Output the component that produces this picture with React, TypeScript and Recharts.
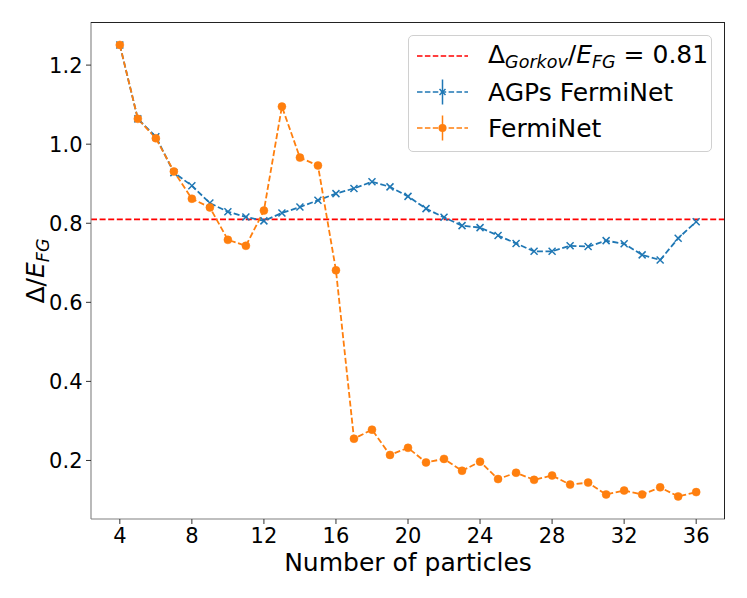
import { LineChart, Line, XAxis, YAxis, ReferenceLine } from "recharts";

const particles = [
  4, 5, 6, 7, 8, 9, 10, 11, 12, 13, 14, 15, 16, 17, 18, 19, 20, 21, 22, 23, 24,
  25, 26, 27, 28, 29, 30, 31, 32, 33, 34, 35, 36,
];

const agpsFermiNet = [
  1.251, 1.064, 1.019, 0.928, 0.895, 0.851, 0.829, 0.816, 0.806, 0.826, 0.841,
  0.858, 0.875, 0.888, 0.905, 0.892, 0.868, 0.837, 0.815, 0.794, 0.789, 0.769,
  0.749, 0.729, 0.729, 0.743, 0.741, 0.756, 0.748, 0.72, 0.707, 0.762, 0.804,
];

const fermiNet = [
  1.251, 1.064, 1.015, 0.931, 0.862, 0.84, 0.758, 0.743, 0.832, 1.095, 0.966,
  0.946, 0.681, 0.255, 0.278, 0.214, 0.232, 0.195, 0.204, 0.174, 0.197, 0.153,
  0.169, 0.151, 0.162, 0.139, 0.144, 0.114, 0.124, 0.114, 0.132, 0.109, 0.12,
];

const xTicks = [4, 8, 12, 16, 20, 24, 28, 32, 36];
const yTicks = [0.2, 0.4, 0.6, 0.8, 1.0, 1.2];
const gorkovGap = 0.81;

const BLUE = "#1f77b4";
const ORANGE = "#ff7f0e";
const RED = "#ff0000";
const FONT = "'DejaVu Sans', sans-serif";
const DASH = "6 2.6";

const data = particles.map((n, i) => ({
  n,
  agps: agpsFermiNet[i],
  fermi: fermiNet[i],
}));

const CrossDot = (props: any) => {
  const { cx, cy, index } = props;
  if (cx == null || cy == null) return null;
  const s = 3.5;
  return (
    <path
      key={`x-${index}`}
      d={`M${cx - s},${cy - s}L${cx + s},${cy + s}M${cx - s},${cy + s}L${cx + s},${cy - s}`}
      stroke={BLUE}
      strokeWidth={1.5}
      fill="none"
    />
  );
};

const Sub = ({ children }: { children: any }) => (
  <span style={{ fontSize: "0.7em", position: "relative", top: "0.3em" }}>
    {children}
  </span>
);

const Handle = ({ color, marker }: { color: string; marker?: "x" | "o" }) => (
  <svg width={52} height={36} style={{ display: "block" }}>
    <line x1={0} y1={18} x2={51} y2={18} stroke={color} strokeWidth={1.5} strokeDasharray="5.5 2.4" />
    {marker && <line x1={25.5} y1={5.5} x2={25.5} y2={30.5} stroke={color} strokeWidth={1.5} />}
    {marker === "x" && (
      <path d="M22.5,15L28.5,21M22.5,21L28.5,15" stroke={color} strokeWidth={1.5} />
    )}
    {marker === "o" && <circle cx={25.5} cy={18} r={4} fill={color} />}
  </svg>
);

const rowStyle = {
  display: "flex",
  alignItems: "center",
  height: 36,
  paddingLeft: 8,
};

const textStyle = { marginLeft: 19, fontSize: 25, lineHeight: "25px" };

export default function App() {
  return (
    <div style={{ position: "relative", width: 731, height: 582, fontFamily: FONT }}>
      <LineChart
        width={731}
        height={582}
        data={data}
        margin={{ top: 14, right: 14, left: 0, bottom: 0 }}
      >
        <XAxis
          dataKey="n"
          type="number"
          domain={[2.4, 37.6]}
          ticks={xTicks}
          allowDataOverflow
          height={71}
          tickSize={5}
          tickMargin={4}
          axisLine={{ stroke: "#808080", strokeWidth: 1.1 }}
          tickLine={{ stroke: "#333" }}
          tick={{ fill: "#000", fontSize: 21, fontFamily: FONT }}
        />
        <YAxis
          type="number"
          domain={[0.052, 1.309]}
          ticks={yTicks}
          allowDataOverflow
          width={83}
          tickSize={5}
          tickMargin={3.5}
          tickFormatter={(v: number) => v.toFixed(1)}
          axisLine={{ stroke: "#808080", strokeWidth: 1.1 }}
          tickLine={{ stroke: "#333" }}
          tick={{ fill: "#000", fontSize: 21, fontFamily: FONT }}
        />
        <ReferenceLine y={gorkovGap} stroke={RED} strokeWidth={1.8} strokeDasharray={DASH} />
        <Line
          type="linear"
          dataKey="agps"
          stroke={BLUE}
          strokeWidth={1.8}
          strokeDasharray={DASH}
          dot={CrossDot}
          activeDot={false}
          isAnimationActive={false}
        />
        <Line
          type="linear"
          dataKey="fermi"
          stroke={ORANGE}
          strokeWidth={1.8}
          strokeDasharray={DASH}
          dot={{ r: 4, fill: ORANGE, stroke: ORANGE, strokeWidth: 0.5, strokeDasharray: "" }}
          activeDot={false}
          isAnimationActive={false}
        />
      </LineChart>

      {/* top and right spines */}
      <div
        style={{
          position: "absolute",
          left: 83,
          top: 14,
          width: 634,
          height: 497,
          boxSizing: "border-box",
          borderTop: "1.1px solid #222",
          borderRight: "1.1px solid #222",
          pointerEvents: "none",
        }}
      />

      {/* legend */}
      <div
        style={{
          position: "absolute",
          left: 400,
          top: 27,
          width: 304,
          height: 117,
          boxSizing: "border-box",
          border: "1px solid #d0d0d0",
          borderRadius: 5,
          background: "rgba(255,255,255,0.8)",
          paddingTop: 2,
        }}
      >
        <div style={rowStyle}>
          <Handle color={RED} />
          <span style={textStyle}>
            Δ<Sub><i>Gorkov</i></Sub>/<i>E</i>
            <Sub><i>FG</i></Sub> = 0.81
          </span>
        </div>
        <div style={rowStyle}>
          <Handle color={BLUE} marker="x" />
          <span style={textStyle}>AGPs FermiNet</span>
        </div>
        <div style={rowStyle}>
          <Handle color={ORANGE} marker="o" />
          <span style={textStyle}>FermiNet</span>
        </div>
      </div>

      {/* x axis label */}
      <div
        style={{
          position: "absolute",
          left: 400,
          top: 541.5,
          transform: "translateX(-50%)",
          fontSize: 25,
          lineHeight: "25px",
          whiteSpace: "nowrap",
        }}
      >
        Number of particles
      </div>

      {/* y axis label */}
      <div
        style={{
          position: "absolute",
          left: 28.5,
          top: 263,
          transform: "translate(-50%, -50%) rotate(-90deg)",
          fontSize: 25,
          lineHeight: "25px",
          whiteSpace: "nowrap",
        }}
      >
        Δ/<i>E</i>
        <Sub><i>FG</i></Sub>
      </div>
    </div>
  );
}
